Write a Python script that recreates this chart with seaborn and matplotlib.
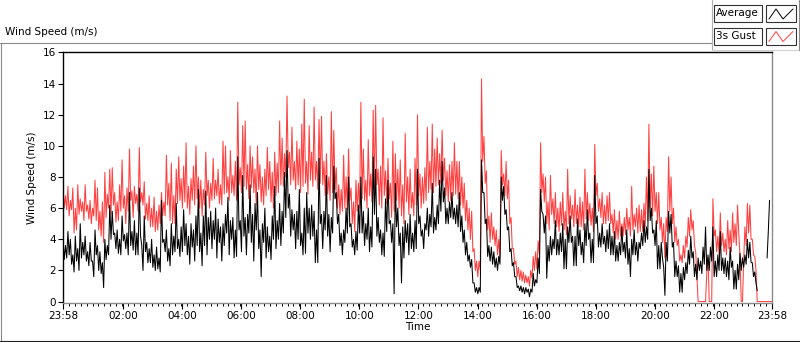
import numpy as np
import pandas as pd
import seaborn as sns
import matplotlib.pyplot as plt
from matplotlib.lines import Line2D
from matplotlib.patches import Rectangle

# --- data ---
# samples every 5 minutes (minute 0 = 23:58, minute 1440 = 23:58 next day)
# plus a second reading 2.5 minutes after each mark
minutes = list(range(0, 1441, 5))
minutes_half = [m + 2.5 for m in range(0, 1440, 5)]

gust = [
    7.5, 6.8, 7.4, 6.5, 7.3, 6.0, 7.5, 6.6, 6.4, 7.5,
    6.2, 6.5, 6.0, 7.8, 7.3, 5.8, 6.4, 8.3, 6.9, 8.5,
    8.6, 7.0, 6.4, 7.5, 9.1, 6.8, 7.3, 9.8, 7.1, 7.4,
    6.9, 9.9, 7.0, 7.7, 6.3, 6.8, 6.0, 6.7, 5.8, 6.2,
    7.0, 6.4, 9.4, 7.6, 8.9, 6.8, 8.5, 9.3, 7.9, 8.7,
    10.2, 7.4, 7.9, 8.7, 10.0, 8.0, 7.8, 7.2, 9.6, 7.8,
    7.6, 9.2, 7.8, 8.5, 7.5, 10.3, 10.0, 8.0, 9.7, 8.1,
    9.0, 12.8, 8.6, 11.3, 11.6, 8.8, 10.0, 9.3, 8.5, 10.0,
    8.8, 8.0, 8.5, 9.9, 9.0, 8.3, 9.6, 8.9, 11.6, 10.5,
    9.5, 13.2, 9.6, 11.2, 9.0, 10.3, 9.8, 11.4, 13.0, 9.0,
    11.3, 9.6, 12.5, 9.0, 11.7, 11.9, 9.0, 9.5, 8.0, 12.2,
    11.0, 8.6, 7.5, 7.2, 9.4, 8.0, 9.8, 7.3, 6.4, 7.8,
    7.6, 12.8, 9.8, 7.8, 10.4, 8.2, 12.3, 12.6, 8.5, 8.7,
    11.8, 8.4, 9.2, 7.6, 10.3, 9.5, 8.5, 9.1, 7.5, 10.8,
    8.0, 8.5, 7.0, 9.2, 12.0, 8.2, 8.0, 8.6, 11.2, 9.0,
    11.4, 9.8, 10.5, 9.5, 11.0, 9.2, 8.4, 8.8, 9.0, 10.2,
    9.0, 9.0, 8.0, 7.6, 6.5, 6.0, 5.8, 3.4, 2.6, 2.6,
    14.3, 10.6, 8.4, 5.5, 5.7, 4.8, 4.6, 4.0, 9.7, 8.2,
    9.0, 7.8, 5.4, 3.4, 2.6, 2.2, 2.0, 1.9, 1.7, 1.6,
    2.0, 2.9, 3.2, 3.9, 10.2, 8.2, 8.0, 6.4, 8.1, 6.6,
    7.0, 6.0, 6.4, 7.0, 5.8, 8.5, 6.8, 6.2, 7.2, 6.2,
    6.7, 6.4, 8.5, 7.0, 6.3, 6.0, 10.1, 7.6, 6.6, 7.0,
    6.2, 6.8, 7.0, 5.6, 5.9, 5.2, 5.8, 5.0, 5.4, 6.0,
    5.4, 7.4, 5.6, 6.0, 6.2, 5.9, 6.3, 8.0, 11.4, 8.2,
    8.7, 7.0, 7.0, 5.4, 5.0, 5.4, 9.3, 8.0, 6.0, 4.8,
    4.0, 3.0, 3.6, 4.2, 5.4, 5.9, 5.2, 3.2, 0.0, 0.0,
    0.0, 0.0, 2.8, 0.0, 6.6, 4.6, 4.2, 5.7, 4.4, 4.0,
    5.2, 4.6, 5.7, 5.0, 6.2, 2.9, 0.0, 4.8, 6.3, 6.2,
    4.0, 2.9, 0.0, 0.0, 0.0, 0.0, 0.0, 0.0, 0.0,
]
gust_half = [
    6.0, 5.9, 5.5, 5.9, 4.4, 4.6, 5.6, 5.8, 5.2, 5.8,
    5.3, 5.0, 5.5, 5.2, 4.6, 4.2, 3.8, 5.4, 6.0, 5.6,
    6.2, 5.1, 5.2, 5.8, 6.0, 5.0, 5.8, 6.5, 5.4, 6.3,
    5.8, 6.4, 6.2, 5.3, 5.2, 4.8, 4.8, 4.5, 4.6, 5.0,
    5.5, 5.5, 6.2, 5.2, 5.0, 5.0, 6.3, 6.5, 6.0, 6.4,
    6.0, 5.6, 6.5, 6.2, 6.6, 6.0, 5.5, 6.2, 6.8, 6.0,
    6.5, 6.6, 6.8, 6.3, 6.2, 6.9, 7.0, 6.5, 7.0, 6.8,
    6.5, 7.5, 7.0, 7.4, 7.2, 6.6, 7.3, 7.0, 6.2, 7.2,
    6.4, 6.2, 6.8, 7.2, 6.4, 6.0, 6.8, 7.0, 7.5, 7.4,
    8.0, 8.6, 7.5, 7.8, 7.2, 7.5, 7.0, 7.4, 7.6, 6.9,
    7.8, 7.4, 7.8, 7.2, 7.6, 7.5, 6.8, 6.9, 6.5, 7.0,
    7.2, 6.0, 5.6, 5.8, 6.0, 5.9, 6.5, 5.0, 4.5, 5.8,
    6.0, 6.6, 6.5, 6.0, 6.8, 6.4, 7.2, 7.5, 6.2, 6.0,
    6.8, 6.3, 6.6, 5.4, 5.8, 6.5, 6.0, 5.5, 5.0, 6.4,
    5.6, 6.0, 5.5, 6.2, 6.8, 6.0, 6.3, 6.5, 7.0, 7.2,
    7.0, 7.4, 7.5, 7.6, 7.8, 6.8, 6.4, 6.5, 6.8, 6.9,
    6.6, 6.2, 6.0, 5.2, 4.6, 4.0, 3.2, 2.0, 1.6, 2.0,
    9.0, 7.6, 4.6, 3.8, 4.0, 3.6, 3.0, 2.8, 7.5, 6.8,
    6.6, 5.0, 3.4, 2.4, 1.6, 1.4, 1.3, 1.2, 1.2, 1.0,
    1.5, 2.0, 2.1, 3.0, 7.0, 6.4, 5.0, 4.6, 5.6, 5.0,
    4.8, 4.5, 4.9, 4.6, 4.3, 5.0, 5.3, 4.8, 5.0, 4.8,
    4.8, 4.6, 5.3, 5.2, 4.9, 4.5, 6.8, 5.8, 5.4, 5.0,
    5.0, 5.2, 5.0, 4.4, 4.0, 4.0, 4.2, 4.2, 4.3, 4.6,
    4.2, 4.6, 4.8, 4.4, 4.5, 4.5, 4.8, 5.2, 6.0, 5.5,
    5.8, 5.0, 4.6, 3.8, 2.8, 4.5, 5.8, 5.0, 3.8, 3.6,
    2.6, 2.5, 2.8, 3.5, 4.2, 4.6, 3.6, 1.6, 0.0, 0.0,
    0.0, 1.8, 0.0, 0.0, 4.2, 3.2, 3.0, 3.6, 3.2, 3.0,
    3.4, 3.2, 3.8, 3.6, 4.4, 0.0, 2.6, 3.6, 4.4, 4.0,
    3.0, 2.0, 0.0, 0.0, 0.0, 0.0, 0.0, 0.0,
]

average = [
    4.0, 3.6, 4.5, 4.0, 3.0, 4.2, 3.4, 5.0, 3.8, 4.2,
    3.2, 3.8, 2.6, 4.6, 3.6, 3.2, 2.5, 4.0, 3.6, 6.2,
    5.8, 4.4, 4.6, 4.0, 5.5, 4.3, 4.4, 7.0, 4.5, 5.2,
    4.4, 7.3, 3.6, 5.5, 3.8, 3.4, 4.0, 3.0, 3.5, 2.8,
    6.5, 4.0, 4.6, 3.4, 5.0, 4.2, 6.3, 4.0, 4.8, 5.9,
    5.0, 4.2, 5.0, 4.6, 5.5, 7.2, 4.4, 5.5, 7.1, 5.4,
    5.8, 5.2, 6.0, 5.3, 4.8, 5.0, 5.6, 6.7, 5.2, 5.4,
    4.6, 9.3, 5.2, 8.1, 5.4, 5.6, 7.5, 5.6, 6.3, 7.0,
    4.6, 5.0, 6.0, 4.8, 4.2, 5.5, 7.4, 5.2, 6.3, 5.8,
    8.3, 9.7, 6.9, 5.9, 5.6, 5.8, 7.2, 4.4, 6.0, 7.0,
    6.0, 6.2, 5.8, 4.6, 9.2, 5.6, 5.8, 8.1, 5.6, 5.4,
    8.7, 7.0, 5.6, 4.4, 4.6, 6.0, 8.0, 5.0, 4.0, 4.5,
    6.2, 8.0, 5.8, 5.0, 6.0, 4.8, 9.3, 8.5, 5.4, 4.6,
    4.4, 6.6, 7.8, 5.2, 5.0, 7.6, 6.0, 4.4, 4.8, 5.2,
    5.0, 5.6, 4.4, 5.2, 8.5, 5.5, 4.6, 5.0, 6.0, 5.6,
    7.6, 5.4, 6.2, 7.8, 9.0, 7.3, 6.0, 6.4, 7.0, 6.0,
    6.2, 7.0, 5.5, 4.6, 3.8, 3.0, 2.7, 1.2, 0.9, 0.9,
    9.1, 7.0, 5.3, 3.6, 3.5, 3.2, 2.8, 2.9, 8.0, 7.4,
    5.9, 4.8, 3.4, 2.5, 1.6, 1.0, 1.0, 0.9, 0.9, 0.8,
    0.8, 1.8, 1.4, 2.8, 7.2, 5.6, 5.5, 3.6, 4.2, 4.0,
    5.2, 4.0, 4.4, 5.0, 4.0, 4.8, 5.5, 4.2, 4.2, 5.3,
    4.6, 3.8, 5.0, 5.9, 4.4, 4.0, 8.1, 5.5, 4.4, 5.0,
    4.2, 4.6, 5.0, 4.2, 4.5, 3.6, 3.8, 4.8, 3.8, 4.6,
    3.4, 4.0, 4.6, 3.8, 3.8, 4.4, 5.2, 4.8, 8.5, 6.0,
    4.6, 5.2, 3.6, 3.8, 2.2, 3.8, 5.8, 5.6, 3.8, 2.6,
    2.3, 1.8, 2.2, 2.5, 3.3, 4.2, 3.2, 2.4, 2.8, 2.6,
    3.5, 4.8, 3.0, 3.5, 4.8, 2.6, 3.0, 4.5, 2.8, 2.8,
    2.6, 3.5, 2.6, 2.0, 2.4, 3.1, 2.8, 3.0, 4.0, 3.8,
    2.5, 1.9, 0.7, np.nan, np.nan, np.nan, 2.8, 6.5, np.nan,
]
average_half = [
    2.7, 2.8, 3.0, 2.4, 1.9, 2.6, 2.0, 2.8, 3.0, 2.6,
    2.3, 2.6, 1.6, 3.0, 2.0, 1.8, 0.9, 2.7, 3.0, 4.0,
    4.3, 3.4, 3.1, 3.0, 3.9, 3.4, 3.0, 3.6, 3.3, 3.0,
    3.0, 4.2, 2.0, 3.2, 2.5, 2.5, 2.2, 2.0, 2.1, 1.9,
    3.8, 3.2, 2.6, 2.3, 3.0, 3.2, 3.4, 2.9, 3.2, 3.6,
    3.0, 2.4, 3.5, 2.6, 3.6, 3.2, 2.3, 3.6, 3.0, 4.0,
    3.4, 4.0, 2.8, 3.8, 2.6, 3.6, 4.4, 3.0, 4.0, 2.8,
    2.9, 4.6, 3.2, 4.2, 3.0, 4.4, 3.8, 2.6, 4.6, 3.4,
    1.6, 3.8, 2.8, 3.2, 2.7, 4.0, 3.4, 4.0, 3.6, 4.4,
    5.4, 6.0, 4.2, 4.6, 3.4, 4.0, 3.6, 3.0, 3.1, 4.4,
    4.0, 4.2, 2.5, 2.5, 5.0, 3.4, 4.6, 4.2, 3.2, 4.4,
    6.6, 5.0, 3.6, 3.0, 3.8, 4.4, 4.8, 3.5, 3.0, 3.3,
    4.4, 4.4, 3.6, 4.0, 3.2, 3.5, 5.6, 4.2, 3.8, 3.0,
    2.9, 4.5, 5.0, 3.8, 0.5, 4.8, 3.6, 1.2, 2.8, 3.8,
    3.0, 3.4, 3.2, 3.4, 5.0, 4.2, 3.4, 4.6, 4.2, 4.8,
    4.4, 4.6, 5.0, 5.8, 6.4, 5.0, 5.0, 5.4, 5.3, 5.0,
    4.8, 4.5, 3.8, 3.0, 2.6, 2.2, 1.2, 0.6, 0.5, 0.6,
    7.0, 5.0, 2.9, 2.6, 2.4, 2.2, 2.0, 2.4, 6.5, 5.6,
    4.6, 3.2, 2.3, 1.6, 0.9, 0.7, 0.6, 0.5, 0.6, 0.3,
    0.6, 1.0, 1.2, 1.8, 5.8, 4.4, 1.5, 2.6, 3.0, 3.4,
    3.0, 3.0, 3.2, 2.1, 2.1, 3.8, 3.8, 2.3, 2.3, 3.6,
    3.0, 2.5, 3.6, 4.0, 2.5, 2.5, 5.0, 3.5, 3.5, 3.7,
    3.2, 3.4, 3.0, 3.0, 2.6, 2.6, 3.0, 3.2, 2.8, 2.4,
    1.6, 3.0, 3.0, 2.6, 3.4, 3.6, 3.8, 4.0, 5.2, 4.4,
    3.6, 2.1, 2.1, 2.8, 0.4, 2.6, 4.4, 3.5, 1.6, 1.6,
    0.6, 0.6, 1.4, 1.8, 2.4, 2.8, 1.6, 1.4, 2.0, 1.8,
    2.4, 2.0, 2.0, 2.6, 1.6, 1.6, 2.0, 2.0, 1.8, 1.6,
    1.4, 2.2, 0.8, 0.8, 1.4, 2.0, 2.2, 2.4, 2.8, 2.5,
    1.6, 1.2, np.nan, np.nan, np.nan, np.nan, 4.5, np.nan,
]

time_labels = ['23:58', '02:00', '04:00', '06:00', '08:00', '10:00', '12:00',
               '14:00', '16:00', '18:00', '20:00', '22:00', '23:58']
y_ticks = list(range(0, 17, 2))
series_names = ['Average', '3s Gust']
series_colors = ['black', '#FF4040']

# tick positions in minutes after the 23:58 start
start = 23 * 60 + 58
tick_pos = []
for lab in time_labels:
    h, m = map(int, lab.split(':'))
    tick_pos.append((h * 60 + m - start) % 1440)
tick_pos[-1] = 1440

sns.set_theme(style='white')
plt.rcParams['font.family'] = ['DejaVu Sans']
plt.rcParams['font.size'] = 7.5
for key in ['text.color', 'axes.labelcolor', 'xtick.color', 'ytick.color']:
    plt.rcParams[key] = 'black'

W, H = 800, 342
fig = plt.figure(figsize=(W / 100, H / 100), dpi=100)
fig.patch.set_facecolor('white')


def fx(x):
    return x / W


def fy(y):
    return 1 - y / H


ax = fig.add_axes([fx(63), fy(302.5), (772 - 63) / W, (302.5 - 52) / H])


def series_frame(on_mark, half):
    d = pd.DataFrame({'minute': minutes + minutes_half, 'speed': on_mark + half})
    d = d.sort_values('minute').reset_index(drop=True)
    d['seg'] = d['speed'].isna().cumsum()  # keep gaps where no data
    return d.dropna()


df_g = series_frame(gust, gust_half)
df_a = series_frame(average, average_half)

sns.lineplot(data=df_g, x='minute', y='speed', units='seg', estimator=None,
             sort=False, color=series_colors[1], lw=0.75, ax=ax)
sns.lineplot(data=df_a, x='minute', y='speed', units='seg', estimator=None,
             sort=False, color=series_colors[0], lw=0.75, ax=ax)

ax.set_xlim(0, 1440)
ax.set_ylim(-0.06, 16.03)
ax.set_xticks(tick_pos)
ax.set_xticklabels(time_labels)
ax.set_xticks(np.arange(0, 1441, 12), minor=True)
ax.set_yticks(y_ticks)
ax.set_yticklabels([str(v) for v in y_ticks])
ax.tick_params(axis='x', which='major', direction='out', length=4, width=0.8,
               color='black', pad=2, labelsize=7.5)
ax.tick_params(axis='x', which='minor', direction='out', length=2.2, width=0.7,
               color='black')
ax.tick_params(axis='y', direction='out', length=3.5, width=0.8, color='black',
               pad=1.5, labelsize=7.5)
ax.tick_params(bottom=True, left=True, which='both')
ax.set_xlabel('Time', fontsize=7.5, labelpad=1)
ax.set_ylabel('Wind Speed (m/s)', fontsize=7.5, labelpad=4)
for side in ['top', 'left']:
    ax.spines[side].set_color('black')
    ax.spines[side].set_linewidth(1.0)
for side in ['bottom', 'right']:
    ax.spines[side].set_color('#8a8a8a')
    ax.spines[side].set_linewidth(1.0)
ax.grid(False)

# outer panel frame
frame = [
    ((0, 712), (42.5, 42.5), '#8a8a8a'),
    ((0.5, 0.5), (42.5, 341), '#8a8a8a'),
    ((0, 800), (340.5, 340.5), '#222222'),
    ((712, 712), (0, 50), '#b0b0b0'),
    ((712, 800), (50, 50), '#d0d0d0'),
    ((799, 799), (0, 50), '#8a8a8a'),
]
for xs, ys, c in frame:
    fig.add_artist(Line2D([fx(x) for x in xs], [fy(y) for y in ys], color=c, lw=0.8))

fig.text(fx(5), fy(32), 'Wind Speed (m/s)', ha='left', va='center', fontsize=7.5)

# legend boxes drawn like the instrument panel
for k, (name, col) in enumerate(zip(series_names, series_colors)):
    top = 5 + k * 22.5
    fig.add_artist(Rectangle((fx(714), fy(top + 17)), 48 / W, 17 / H,
                             facecolor='white', edgecolor='#333333', lw=0.8))
    fig.text(fx(716), fy(top + 8.5), name, ha='left', va='center', fontsize=7.5)
    fig.add_artist(Rectangle((fx(766), fy(top + 17)), 30 / W, 17 / H,
                             facecolor='white', edgecolor='#333333', lw=0.8))
    zx = [769, 776, 783, 793]
    zy = [top + 14, top + 4, top + 14, top + 4]
    fig.add_artist(Line2D([fx(x) for x in zx], [fy(y) for y in zy], color=col, lw=0.7))

fig.savefig('out.png', dpi=100, facecolor='white')
